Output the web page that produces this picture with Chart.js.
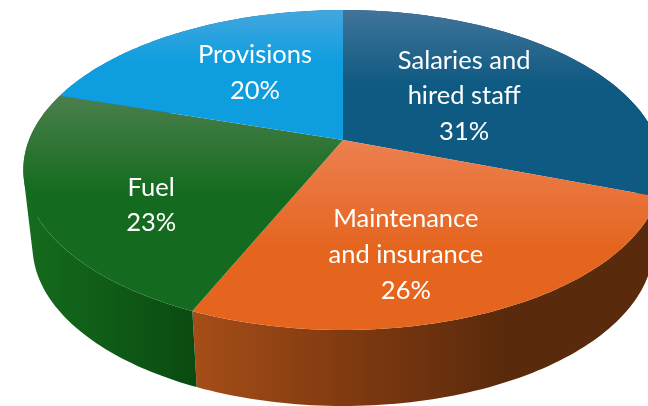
<!DOCTYPE html>
<html>
<head>
<meta charset="utf-8">
<script src="https://cdn.jsdelivr.net/npm/chart.js@4/dist/chart.umd.min.js"></script>
<style>html,body{margin:0;padding:0;background:#fff}canvas{display:block}</style>
</head>
<body>
<canvas id="c" width="648" height="406"></canvas>
<script>
const categories = ["Salaries and hired staff", "Maintenance and insurance", "Fuel", "Provisions"];
const shares = [30.6, 25.9, 23.4, 20.1];
const labelLines = [["Salaries and", "hired staff"], ["Maintenance", "and insurance"], ["Fuel"], ["Provisions"]];
const topColors = ["#0e5a82", "#e5641e", "#146b1f", "#0e9ee0"];
const sheenColors = ["#41749a", "#ec8050", "#4b7f4c", "#44a6de"];
const sheenStops = [0.4, 0.58, 0.45, 0.4];
const wallStops = [["#0e3f5c", "#0a3048"], ["#a64e18", "#803a10", "#5a2a0c", "#5a2a0c"], ["#156c1e", "#0a4a10"], ["#0c6fa0", "#0c6fa0"]];
const labelNudges = [[-24, 6], [-20, 20], [-12, 25], [14, 1]];

const view = { apexX: 343, apexY: 140, spanX: 314, spanY: 128.1, tilt: -0.1875, floorSpanX: 305, depth: 76, anchor: 0.6, steps: 80 };

function project(a, f, spanX, drop) {
  const u = Math.cos(a) * f, v = Math.sin(a) * f, w = 1 + view.tilt * v;
  return [view.apexX + spanX * u / w, (view.spanY * v + view.apexY) / w + drop];
}
function arcPoints(el, spanX, drop) {
  const pts = [];
  for (let i = 0; i <= view.steps; i++) {
    pts.push(project(el.startAngle + (el.endAngle - el.startAngle) * i / view.steps, 1, spanX, drop));
  }
  return pts;
}
function trace(ctx, pts) { pts.forEach(p => ctx.lineTo(p[0], p[1])); }
function traceQuad(ctx, a, b, c, d) {
  const q = [a, b, c, d];
  let area = 0;
  q.forEach((p, k) => { const n = q[(k + 1) % 4]; area += p[0] * n[1] - n[0] * p[1]; });
  if (area < 0) q.reverse();
  ctx.moveTo(q[0][0], q[0][1]);
  q.slice(1).forEach(p => ctx.lineTo(p[0], p[1]));
  ctx.closePath();
}

const tiltedPie = {
  id: "tiltedPie",
  beforeDatasetsDraw(chart) {
    const ctx = chart.ctx, arcs = chart.getDatasetMeta(0).data;
    ctx.save();
    arcs.forEach((el, i) => {
      const upper = arcPoints(el, view.spanX, 0), lower = arcPoints(el, view.floorSpanX, view.depth);
      const xs = upper.concat(lower).map(p => p[0]);
      const x0 = Math.min(...xs), x1 = Math.max(...xs);
      const g = ctx.createLinearGradient(x0, 0, x1, 0);
      wallStops[i].forEach((c, k) => g.addColorStop(k / (wallStops[i].length - 1), c));
      ctx.beginPath();
      for (let s = 0; s < view.steps; s++) traceQuad(ctx, upper[s], upper[s + 1], lower[s + 1], lower[s]);
      ctx.fillStyle = g; ctx.fill("nonzero");
    });
    arcs.forEach((el, i) => {
      const rim = arcPoints(el, view.spanX, 0);
      const ys = rim.map(p => p[1]).concat(view.apexY);
      const y0 = Math.min(...ys), y1 = Math.max(...ys);
      const g = ctx.createLinearGradient(0, y0, 0, y1);
      g.addColorStop(0, sheenColors[i]);
      g.addColorStop(sheenStops[i], el.options.backgroundColor);
      g.addColorStop(1, el.options.backgroundColor);
      ctx.beginPath(); ctx.moveTo(view.apexX, view.apexY); trace(ctx, rim); ctx.closePath();
      ctx.fillStyle = g; ctx.fill();
    });
    ctx.fillStyle = "#fff";
    ctx.font = "25.5px Lato";
    ctx.textAlign = "center";
    ctx.textBaseline = "middle";
    arcs.forEach((el, i) => {
      const p = project((el.startAngle + el.endAngle) / 2, view.anchor, view.spanX, 0);
      const lines = labelLines[i].concat(Math.round(shares[i]) + "%");
      const x = p[0] + labelNudges[i][0], y = p[1] + labelNudges[i][1];
      lines.forEach((t, k) => ctx.fillText(t, x, y + (k - (lines.length - 1) / 2) * 35.8));
    });
    ctx.restore();
    return false;
  }
};

new Chart(document.getElementById("c"), {
  type: "pie",
  data: { labels: categories, datasets: [{ data: shares, backgroundColor: topColors, borderWidth: 0 }] },
  options: {
    responsive: false, animation: false,
    plugins: { legend: { display: false }, tooltip: { enabled: false } }
  },
  plugins: [tiltedPie]
});
</script>
</body>
</html>
